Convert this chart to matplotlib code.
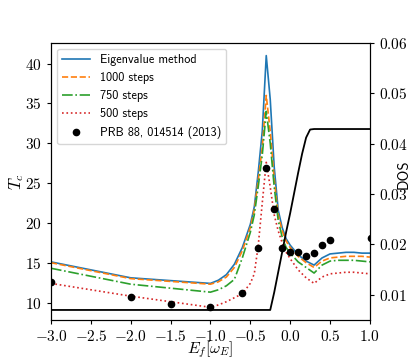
import matplotlib
matplotlib.use("Agg")
from matplotlib import pyplot as plt
from matplotlib.ticker import FuncFormatter, MultipleLocator

# energies (in units of omega_E)
e_f = [-3.0, -2.0, -1.0, -0.9, -0.8, -0.7, -0.6, -0.5, -0.45, -0.4, -0.35,
       -0.3, -0.25, -0.2, -0.15, -0.1, -0.05, 0.0, 0.1, 0.2, 0.3, 0.4, 0.5,
       0.6, 0.7, 0.8, 0.9, 1.0]

tc_eigen = [15.1, 13.1, 12.4, 12.8, 13.5, 14.8, 16.9, 19.8, 22.0, 26.4, 31.5,
            41.0, 35.5, 27.0, 21.6, 19.4, 18.0, 17.2, 16.0, 15.2, 14.7, 15.6,
            16.1, 16.2, 16.3, 16.3, 16.2, 16.2]
tc_1000 = [15.0, 13.0, 12.3, 12.6, 13.2, 14.4, 16.5, 19.4, 21.6, 25.4, 29.5,
           36.0, 31.5, 25.5, 21.0, 19.0, 17.7, 16.9, 15.8, 15.0, 14.4, 15.2,
           15.6, 15.7, 15.8, 15.8, 15.8, 15.7]
tc_750 = [14.3, 12.3, 11.3, 11.6, 12.1, 12.9, 15.6, 18.8, 21.0, 24.6, 28.5,
          34.0, 30.0, 24.5, 20.3, 18.2, 16.9, 16.2, 15.1, 14.4, 13.7, 14.7,
          15.2, 15.3, 15.3, 15.3, 15.2, 15.1]
tc_500 = [12.4, 10.8, 9.4, 9.7, 10.1, 10.6, 11.1, 12.4, 13.6, 17.2, 22.5,
          27.6, 24.5, 21.0, 19.0, 17.5, 16.3, 15.5, 14.1, 13.1, 12.4, 13.2,
          13.6, 13.7, 13.8, 13.8, 13.7, 13.6]

# PRB 88, 014514 (2013)
prb_e = [-3.0, -2.0, -1.5, -1.0, -0.6, -0.4, -0.3, -0.2, -0.1, 0.0, 0.1,
         0.2, 0.3, 0.4, 0.5, 1.02]
prb_tc = [12.6, 10.7, 9.8, 9.4, 11.2, 16.9, 26.9, 21.8, 16.9, 16.4, 16.4,
          15.9, 16.2, 17.2, 17.8, 18.1]

# density of states
dos_e = [-3.0, -0.25, -0.2, -0.15, -0.1, -0.05, 0.0, 0.05, 0.1, 0.15, 0.2,
         0.25, 0.3, 1.0]
dos = [0.0070, 0.0070, 0.0105, 0.0145, 0.0185, 0.0225, 0.0262, 0.0302,
       0.0342, 0.0380, 0.0412, 0.0428, 0.0429, 0.0429]


def math_fmt(v, pos, digits):
    s = f"{v:.{digits}f}"
    return "$" + s.replace("-", "{-}") + "$"


def main():
    plt.rcParams["mathtext.fontset"] = "cm"
    plt.rcParams["axes.linewidth"] = 0.8
    # computer modern sans ships with matplotlib
    sans = {"family": ["cmss10", "DejaVu Sans"]}

    fig = plt.figure(figsize=(4.11, 3.6), dpi=100)
    ax = fig.add_axes([0.124, 0.111, 0.776, 0.770])

    ax.plot(e_f, tc_eigen, color="#1f77b4", lw=1.2, label="Eigenvalue method")
    ax.plot(e_f, tc_1000, color="#ff7f0e", lw=1.2, ls="--", label="1000 steps")
    ax.plot(e_f, tc_750, color="#2ca02c", lw=1.2, ls="-.", label="750 steps")
    ax.plot(e_f, tc_500, color="#d62728", lw=1.2, ls=":", label="500 steps")
    ax.plot(prb_e, prb_tc, "o", color="black", ms=4.5,
            label="PRB 88, 014514 (2013)")

    ax.set_xlim(-3.0, 1.0)
    ax.set_ylim(7.8, 42.6)
    ax.xaxis.set_major_locator(MultipleLocator(0.5))
    ax.yaxis.set_major_locator(MultipleLocator(5))
    ax.xaxis.set_major_formatter(FuncFormatter(lambda v, p: math_fmt(v, p, 1)))
    ax.yaxis.set_major_formatter(FuncFormatter(lambda v, p: math_fmt(v, p, 0)))
    ax.tick_params(labelsize=11, length=3, width=0.8)
    ax.set_xlabel(r"$E_f[\omega_E]$", fontsize=11.5)
    ax.xaxis.set_label_coords(0.5, -0.07)
    ax.set_ylabel(r"$T_c$", fontsize=12)
    ax.yaxis.set_label_coords(-0.078, 0.5)

    ax.legend(loc="upper left", prop=dict(sans, size=8.8), handlelength=2.3,
              borderaxespad=0.5, labelspacing=0.5)

    ax2 = ax.twinx()
    ax2.plot(dos_e, dos, color="black", lw=1.3)
    ax2.set_ylim(0.005, 0.06)
    ax2.yaxis.set_major_locator(MultipleLocator(0.01))
    ax2.yaxis.set_major_formatter(FuncFormatter(lambda v, p: math_fmt(v, p, 2)))
    ax2.tick_params(labelsize=11, length=3, width=0.8)
    ax2.set_ylabel("DOS", fontdict=dict(sans, size=10.5))
    ax2.yaxis.set_label_coords(1.083, 0.525)

    fig.savefig("out.png", dpi=100)


if __name__ == "__main__":
    main()
